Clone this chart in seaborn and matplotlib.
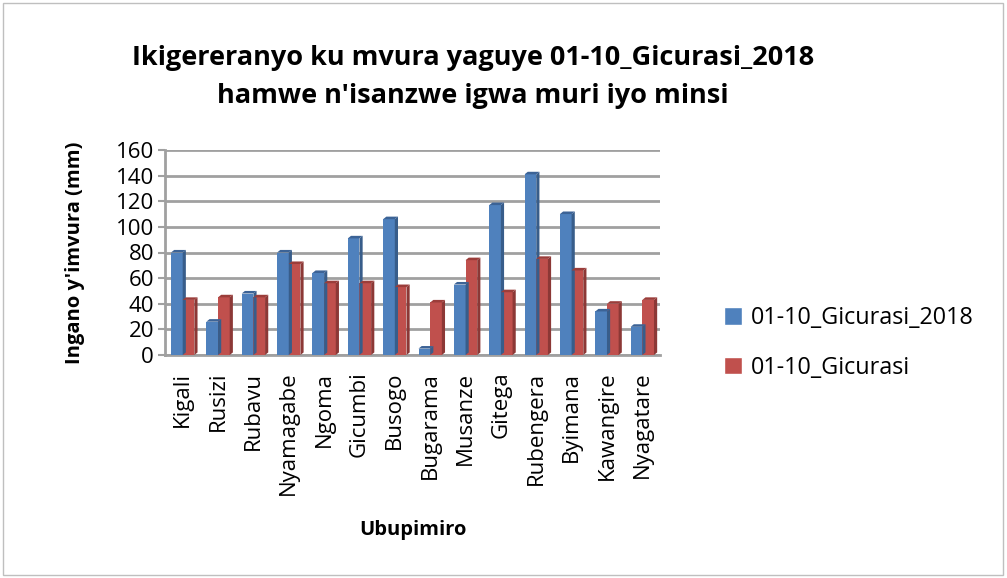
import matplotlib
matplotlib.use("Agg")
import matplotlib.pyplot as plt
import seaborn as sns
import pandas as pd
from matplotlib.patches import Rectangle, Polygon

stations = ["Kigali", "Rusizi", "Rubavu", "Nyamagabe", "Ngoma", "Gicumbi", "Busogo",
            "Bugarama", "Musanze", "Gitega", "Rubengera", "Byimana", "Kawangire", "Nyagatare"]
rain_2018 = [80, 26, 48, 80, 64, 91, 106, 5, 55, 117, 141, 110, 34, 22]
rain_normal = [43, 45, 45, 71, 56, 56, 53, 41, 74, 49, 75, 66, 40, 43]
series_names = ["01-10_Gicurasi_2018", "01-10_Gicurasi"]
yticks = [0, 20, 40, 60, 80, 100, 120, 140, 160]

df = pd.DataFrame({
    "station": stations * 2,
    "value": rain_2018 + rain_normal,
    "series": [series_names[0]] * len(stations) + [series_names[1]] * len(stations),
})

sns.set_theme(style="white")
plt.rcParams["font.family"] = ["Open Sans", "DejaVu Sans"]
plt.rcParams["text.color"] = "black"
plt.rcParams["axes.labelcolor"] = "black"
plt.rcParams["xtick.color"] = "black"
plt.rcParams["ytick.color"] = "black"

fig = plt.figure(figsize=(10.07, 5.78), dpi=100)
ax = fig.add_axes([165 / 1007, 1 - 355 / 578, 495 / 1007, 205 / 578])

palette = {series_names[0]: "#4F81BD", series_names[1]: "#C0504D"}
sides = {series_names[0]: "#385D8A", series_names[1]: "#8C3836"}
tops = {series_names[0]: "#3C6396", series_names[1]: "#9B3D3A"}
sns.barplot(data=df, x="station", y="value", hue="series", palette=palette,
            width=0.66, ax=ax, legend=True, saturation=1)

n = len(stations)
bars = list(ax.patches)[:2 * n]
dx, dy = 0.09, 2.0
for i, bar in enumerate(bars):
    name = series_names[0] if i < n else series_names[1]
    bar.set_edgecolor("none")
    bar.set_zorder(3)
    x0, w, h = bar.get_x(), bar.get_width(), bar.get_height()
    side = Polygon([(x0 + w, 0), (x0 + w + dx, dy), (x0 + w + dx, h + dy), (x0 + w, h)],
                   closed=True, facecolor=sides[name], edgecolor="none", zorder=3)
    top = Polygon([(x0, h), (x0 + dx, h + dy), (x0 + w + dx, h + dy), (x0 + w, h)],
                  closed=True, facecolor=tops[name], edgecolor="none", zorder=3)
    ax.add_patch(side)
    ax.add_patch(top)

ax.set_ylim(0, 160)
ax.set_yticks(yticks)
ax.set_yticklabels([str(t) for t in yticks], fontsize=16)
ax.set_xlim(-0.5, n - 0.5)
ax.tick_params(axis="x", labelrotation=90, labelsize=16, pad=12, length=0)
ax.tick_params(axis="y", pad=3, left=True, length=5, width=1.5, color="#A0A0A0")
ax.yaxis.grid(True, color="#A0A0A0", linewidth=2)
ax.set_axisbelow(True)
for s in ["top", "right"]:
    ax.spines[s].set_visible(False)
for s in ["left", "bottom"]:
    ax.spines[s].set_color("#A0A0A0")
    ax.spines[s].set_linewidth(2)

ax.set_xlabel("Ubupimiro", fontsize=14.5, fontweight="bold", labelpad=18)
ax.set_ylabel("Ingano y'imvura (mm)", fontsize=14.5, fontweight="bold", labelpad=22)

fig.suptitle("Ikigereranyo ku mvura yaguye 01-10_Gicurasi_2018\nhamwe n'isanzwe igwa muri iyo minsi",
             x=473 / 1007, y=1 - 45 / 578, fontsize=19.5, fontweight="bold",
             linespacing=1.6, va="top")

handles, labels = ax.get_legend_handles_labels()
ax.legend(handles, labels, loc="center left", bbox_to_anchor=(703 / 1007, 1 - 343 / 578),
          bbox_transform=fig.transFigure, frameon=False, fontsize=16.8,
          handlelength=0.75, handleheight=0.75, labelspacing=1.1, handletextpad=0.4)

fig.patches.append(Rectangle((3 / 1007, 3 / 578), 1000 / 1007, 572 / 578,
                             transform=fig.transFigure, fill=False,
                             edgecolor="#BFBFBF", linewidth=1))

fig.savefig("out.png", dpi=100)
